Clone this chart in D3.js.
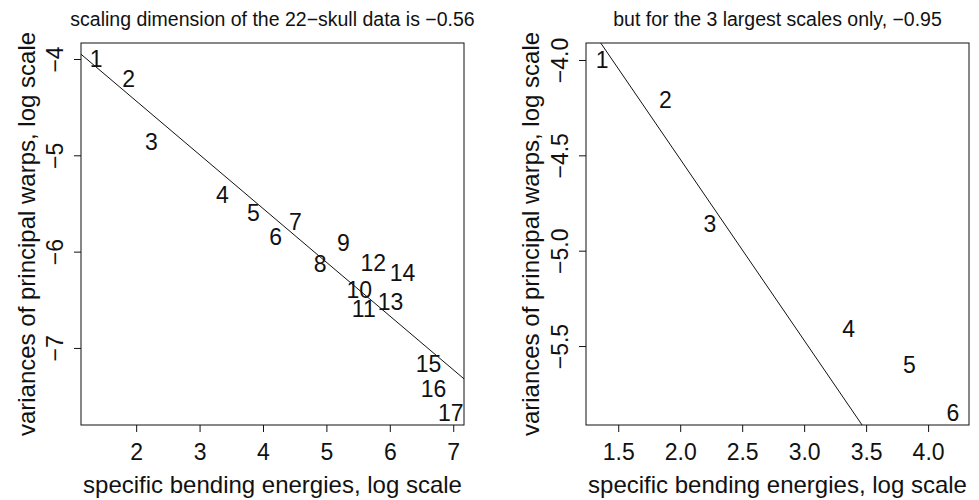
<!DOCTYPE html>
<html>
<head>
	<meta http-equiv="Content-Type" content="text/html;charset=utf-8">
	<title>Scaling dimension</title>
	<script src="https://d3js.org/d3.v7.min.js"></script>
	<style type="text/css">
		body { margin: 0; background: #fff; }
		text { font-family: "Liberation Sans", Arial, sans-serif; fill: #111; }
		.frame { fill: none; stroke: #111; stroke-width: 1px; }
		.fit { stroke: #111; stroke-width: 1px; }
		.axis path, .axis line { stroke: #111; }
	</style>
</head>
<body>
	<svg width="979" height="500"></svg>

	<script type="text/javascript">
		// point numbers and their (log) coordinates
		var labels = [1, 2, 3, 4, 5, 6, 7, 8, 9, 10, 11, 12, 13, 14, 15, 16, 17];
		var bending = [1.37, 1.88, 2.24, 3.36, 3.85, 4.20, 4.51, 4.90, 5.27, 5.52, 5.59, 5.74, 6.01, 6.20, 6.61, 6.69, 6.96];
		var variance = [-4.0, -4.21, -4.86, -5.41, -5.60, -5.85, -5.69, -6.13, -5.91, -6.40, -6.59, -6.12, -6.52, -6.22, -7.16, -7.42, -7.67];

		// fitted lines: intercept, slope
		var fitAll = [-3.32, -0.558];
		var fitLarge = [-2.62, -0.95];

		var titles = ["scaling dimension of the 22\u2212skull data is \u22120.56",
			"but for the 3 largest scales only, \u22120.95"];
		var xTicksLeft = [2, 3, 4, 5, 6, 7];
		var yTicksLeft = [-4, -5, -6, -7];
		var xTicksRight = [1.5, 2.0, 2.5, 3.0, 3.5, 4.0];
		var yTicksRight = [-4.0, -4.5, -5.0, -5.5];

		var svg = d3.select("svg");
		var minus = function (s) { return s.replace("-", "\u2212"); };

		var panels = [
			{ left: 81, n: 17, fit: fitAll, title: titles[0], xd: [1.13, 7.17], yd: [-7.80, -3.834],
			  xt: xTicksLeft, yt: yTicksLeft, xf: d3.format("d"), yf: d3.format("d"), yl: -46 },
			{ left: 586, n: 6, fit: fitLarge, title: titles[1], xd: [1.24, 4.33], yd: [-5.914, -3.911],
			  xt: xTicksRight, yt: yTicksRight, xf: d3.format(".1f"), yf: d3.format(".1f"), yl: -47 }
		];

		panels.forEach(function (p, i) {
			var top = 43, w = 383, h = 382;
			var g = svg.append("g").attr("transform", "translate(" + p.left + "," + top + ")");
			var x = d3.scaleLinear().domain(p.xd).range([0, w]);
			var y = d3.scaleLinear().domain(p.yd).range([h, 0]);

			g.append("clipPath").attr("id", "clip" + i)
				.append("rect").attr("width", w).attr("height", h);

			// x axis
			var xa = g.append("g").attr("class", "axis")
				.attr("transform", "translate(0," + h + ")")
				.call(d3.axisBottom(x).tickValues(p.xt).tickFormat(p.xf).tickSize(7).tickPadding(11.5));
			xa.selectAll("text").attr("font-size", 23).attr("fill", "#111")
				.attr("font-family", "Liberation Sans, Arial, sans-serif");

			// y axis with rotated labels
			var ya = g.append("g").attr("class", "axis")
				.call(d3.axisLeft(y).tickValues(p.yt).tickFormat(function (d) { return minus(p.yf(d)); }).tickSize(7));
			ya.selectAll("text")
				.attr("font-size", 23).attr("fill", "#111")
				.attr("font-family", "Liberation Sans, Arial, sans-serif")
				.attr("x", null).attr("dy", null)
				.attr("text-anchor", "middle")
				.attr("transform", "translate(-18,0) rotate(-90)");
			ya.select(".domain").remove();
			xa.select(".domain").remove();

			g.append("rect").attr("class", "frame").attr("width", w).attr("height", h);

			// fit line
			g.append("line").attr("class", "fit").attr("clip-path", "url(#clip" + i + ")")
				.attr("x1", x(p.xd[0])).attr("y1", y(p.fit[0] + p.fit[1] * p.xd[0]))
				.attr("x2", x(p.xd[1])).attr("y2", y(p.fit[0] + p.fit[1] * p.xd[1]));

			// point numbers
			g.selectAll(".pt").data(labels.slice(0, p.n)).enter().append("text")
				.attr("class", "pt")
				.attr("x", function (d, k) { return x(bending[k]); })
				.attr("y", function (d, k) { return y(variance[k]); })
				.attr("dy", "0.36em")
				.attr("text-anchor", "middle")
				.attr("font-size", 23)
				.text(function (d) { return d; });

			// titles and axis labels
			g.append("text").attr("x", w / 2).attr("y", -17).attr("text-anchor", "middle")
				.attr("font-size", 19.5).text(p.title);
			g.append("text").attr("x", w / 2).attr("y", h + 68).attr("text-anchor", "middle")
				.attr("font-size", 24).text("specific bending energies, log scale");
			g.append("text").attr("transform", "translate(" + p.yl + "," + (h / 2) + ") rotate(-90)")
				.attr("text-anchor", "middle").attr("font-size", 24)
				.text("variances of principal warps, log scale");
		});
	</script>
</body>
</html>
